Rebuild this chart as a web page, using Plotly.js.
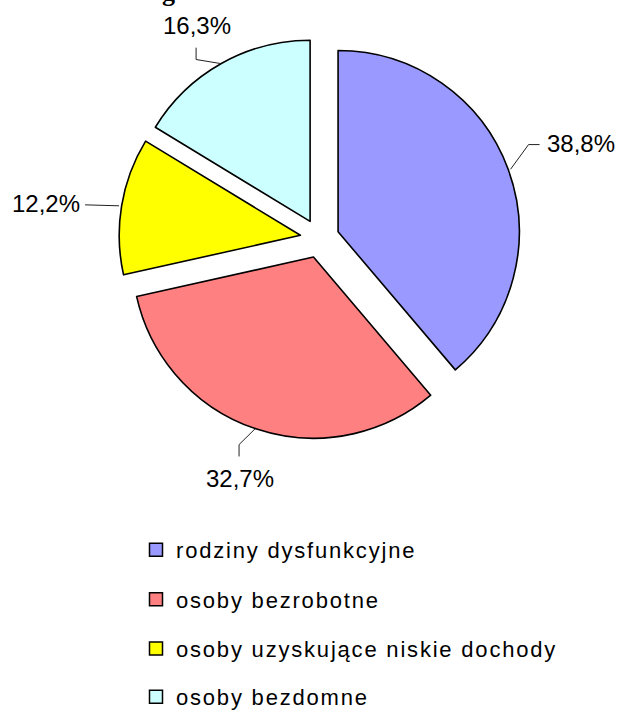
<!DOCTYPE html>
<html>
<head>
<meta charset="utf-8">
<script src="https://cdn.plot.ly/plotly-3.0.1.min.js"></script>
<style>
  html, body { margin: 0; padding: 0; background: #ffffff; }
  #chart { width: 622px; height: 718px; }
</style>
</head>
<body>
<div id="chart"></div>
<script>
// ---- data ----
const categories = ['rodziny dysfunkcyjne', 'osoby bezrobotne', 'osoby uzyskujące niskie dochody', 'osoby bezdomne'];
const shares = [38.8, 32.7, 12.2, 16.3];
const sliceColors = ['#9999FF', '#FF8080', '#FFFF00', '#CCFFFF'];
const titleFragment = 'g';

// ---- layout geometry (pixels) ----
const W = 622, H = 718;
const cx = 319.7, cy = 241.5, r = 183.5, pull = 0.108;
const half = r * (1 + pull);

const pctText = shares.map(v => v.toFixed(1).replace('.', ',') + '%');

// leader offsets relative to the outer arc mid-point of each (pulled) slice
const leaderCfg = [
  { elbow: [18, -25], end: [29, -25], text: [5, -1], xanchor: 'left' },
  { elbow: [-16, 16], end: [-16, 28], text: [0.5, 22], xanchor: 'center' },
  { elbow: [-34, -1], end: [-34, -1], text: [-3, -1], xanchor: 'right' },
  { elbow: [-24, -4], end: [-24, -16], text: [1, -22.5], xanchor: 'center' }
];

const total = shares.reduce((a, b) => a + b, 0);
let cum = 0;
const shapes = [];
const annotations = [];
shares.forEach((v, i) => {
  const mid = (cum + v / 2) / total * 2 * Math.PI;
  cum += v;
  const ex = cx + half * Math.sin(mid);
  const ey = cy - half * Math.cos(mid);
  const c = leaderCfg[i];
  const p1 = [ex + c.elbow[0], ey + c.elbow[1]];
  const p2 = [ex + c.end[0], ey + c.end[1]];
  shapes.push({
    type: 'path', xref: 'x', yref: 'y',
    path: `M${ex},${ey} L${p1[0]},${p1[1]} L${p2[0]},${p2[1]}`,
    line: { color: '#222222', width: 1 }
  });
  annotations.push({
    xref: 'x', yref: 'y', x: p2[0] + c.text[0], y: p2[1] + c.text[1],
    text: pctText[i], showarrow: false, xanchor: c.xanchor, yanchor: 'middle',
    font: { family: 'Liberation Sans, Arial, sans-serif', size: 24, color: '#000000' }
  });
});

// cut-off title fragment at the very top (mostly above the visible area, as in the reference)
annotations.push({
  xref: 'paper', yref: 'paper', x: 168 / W, y: 1 + 8 / H, text: '<b>' + titleFragment + '</b>',
  showarrow: false, xanchor: 'center', yanchor: 'middle',
  font: { family: 'Liberation Serif, Times New Roman, serif', size: 26, color: '#000000' }
});

const traces = [{
  type: 'pie',
  labels: categories,
  values: shares,
  sort: false,
  direction: 'clockwise',
  rotation: 0,
  pull: pull,
  marker: { colors: sliceColors, line: { color: '#000000', width: 1.6 } },
  textinfo: 'none',
  hoverinfo: 'skip',
  showlegend: false,
  domain: {
    x: [(cx - half) / W, (cx + half) / W],
    y: [1 - (cy + half) / H, 1 - (cy - half) / H]
  }
}];

const legendNames = ['legend', 'legend2', 'legend3', 'legend4'];
const legendY = [557, 607, 657, 706];
const layout = {
  width: W, height: H,
  margin: { l: 0, r: 0, t: 0, b: 0 },
  paper_bgcolor: '#ffffff', plot_bgcolor: 'rgba(0,0,0,0)',
  font: { family: 'Liberation Sans, Arial, sans-serif', color: '#000000' },
  xaxis: { range: [0, W], visible: false, fixedrange: true },
  yaxis: { range: [H, 0], visible: false, fixedrange: true },
  showlegend: true,
  shapes: shapes,
  annotations: annotations
};

categories.forEach((name, i) => {
  traces.push({
    type: 'scatter', mode: 'markers', x: [null], y: [null], name: name,
    legend: legendNames[i], showlegend: true, hoverinfo: 'skip',
    marker: { symbol: 'square', size: 13, color: sliceColors[i], line: { color: '#000000', width: 1.5 } }
  });
  layout[legendNames[i]] = {
    x: 136 / W, y: 1 - legendY[i] / H, xanchor: 'left', yanchor: 'middle',
    bgcolor: 'rgba(0,0,0,0)', borderwidth: 0,
    font: { family: 'Liberation Sans, Arial, sans-serif', size: 22, color: '#000000' }
  };
});

Plotly.newPlot('chart', traces, layout, { displayModeBar: false, staticPlot: true }).then(() => {
  document.querySelectorAll('#chart text').forEach(t => {
    if (categories.includes(t.textContent)) t.style.letterSpacing = '1.8px';
  });
  document.querySelectorAll('#chart .infolayer [clip-path]').forEach(e => e.removeAttribute('clip-path'));
});
</script>
</body>
</html>
